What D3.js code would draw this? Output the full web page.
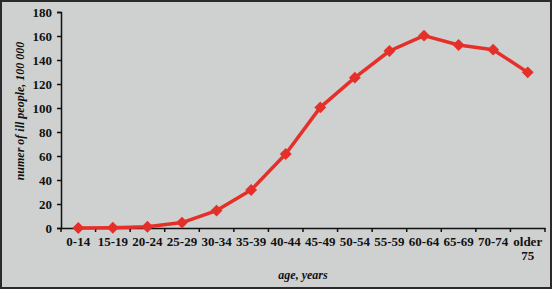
<!DOCTYPE html>
<html><head><meta charset="utf-8">
<script src="https://cdn.jsdelivr.net/npm/d3@7"></script>
<style>body{margin:0;background:#fff}svg{display:block}</style>
</head><body>
<script>
const categories = ["0-14","15-19","20-24","25-29","30-34","35-39","40-44","45-49","50-54","55-59","60-64","65-69","70-74","older 75"];
const values = [0, 0.2, 1, 4.5, 14.5, 31.7, 61.7, 100.5, 125.3, 147.5, 160.3, 152.5, 148.6, 129.7];
const yTicks = [0,20,40,60,80,100,120,140,160,180];
const xTitle = "age, years";
const yTitle = "numer of ill people, 100 000";

const W = 553, H = 290;
const svg = d3.select("body").append("svg").attr("width", W).attr("height", H);
svg.append("rect").attr("x",1).attr("y",1).attr("width",W-3).attr("height",H-3)
  .attr("fill","#cfd1d0").attr("stroke","#2a2a2a").attr("stroke-width",2);

const x0 = 61, x1 = 545, yTop = 12, yBot = 228;
const x = d3.scaleBand().domain(categories).range([x0, x1]);
const y = d3.scaleLinear().domain([0,180]).range([yBot, yTop]);
const font = "'Liberation Serif','Times New Roman',serif";

// y axis
const ya = svg.append("g").attr("transform",`translate(${x0},0)`)
  .call(d3.axisLeft(y).tickValues(yTicks).tickSize(4).tickPadding(5));
ya.select(".domain").attr("stroke","#111").attr("stroke-width",1.5);
ya.selectAll(".tick line").attr("stroke","#111").attr("stroke-width",1.5);
ya.selectAll(".tick text").attr("font-family",font).attr("font-weight","bold").attr("font-size",13).attr("fill","#111");

// x axis
const xa = svg.append("g").attr("transform",`translate(0,${yBot})`)
  .call(d3.axisBottom(x).tickSize(0).tickSizeOuter(0).tickFormat(""));
xa.select(".domain").attr("stroke","#111").attr("stroke-width",1.5);
xa.selectAll(".tick").remove();
const bounds = categories.map((c,i)=> x(c)).concat([x1]);
xa.selectAll("line.bt").data(bounds).enter().append("line")
  .attr("x1",d=>d).attr("x2",d=>d).attr("y1",0).attr("y2",4)
  .attr("stroke","#111").attr("stroke-width",1.5);
const lbl = svg.append("g");
categories.forEach(c => {
  const parts = c.startsWith("older") ? ["older","75"] : [c];
  const t = lbl.append("text").attr("x", x(c)+x.bandwidth()/2).attr("y", 246)
    .attr("text-anchor","middle").attr("font-family",font).attr("font-weight","bold")
    .attr("font-size",13).attr("fill","#111");
  parts.forEach((p,i)=> t.append("tspan").attr("x", x(c)+x.bandwidth()/2).attr("dy", i?14:0).text(p));
});

// titles
svg.append("text").attr("x", (x0+x1)/2).attr("y", 279).attr("text-anchor","middle")
  .attr("font-family",font).attr("font-weight","bold").attr("font-style","italic")
  .attr("font-size",12).attr("fill","#111").text(xTitle);
svg.append("text").attr("transform","translate(24,111) rotate(-90)").attr("text-anchor","middle")
  .attr("font-family",font).attr("font-weight","bold").attr("font-style","italic")
  .attr("font-size",12).attr("fill","#111").text(yTitle);

// line
const cx = c => x(c)+x.bandwidth()/2;
const line = d3.line().x((d,i)=>cx(categories[i])).y(d=>y(d));
svg.append("path").datum(values).attr("d", line).attr("fill","none")
  .attr("stroke","#e5302a").attr("stroke-width",3.5).attr("stroke-linejoin","round");
svg.append("g").selectAll("path").data(values).enter().append("path")
  .attr("d", d3.symbol().type(d3.symbolDiamond2).size(90))
  .attr("transform",(d,i)=>`translate(${cx(categories[i])},${y(d)})`)
  .attr("fill","#e5302a");
</script>
</body></html>
